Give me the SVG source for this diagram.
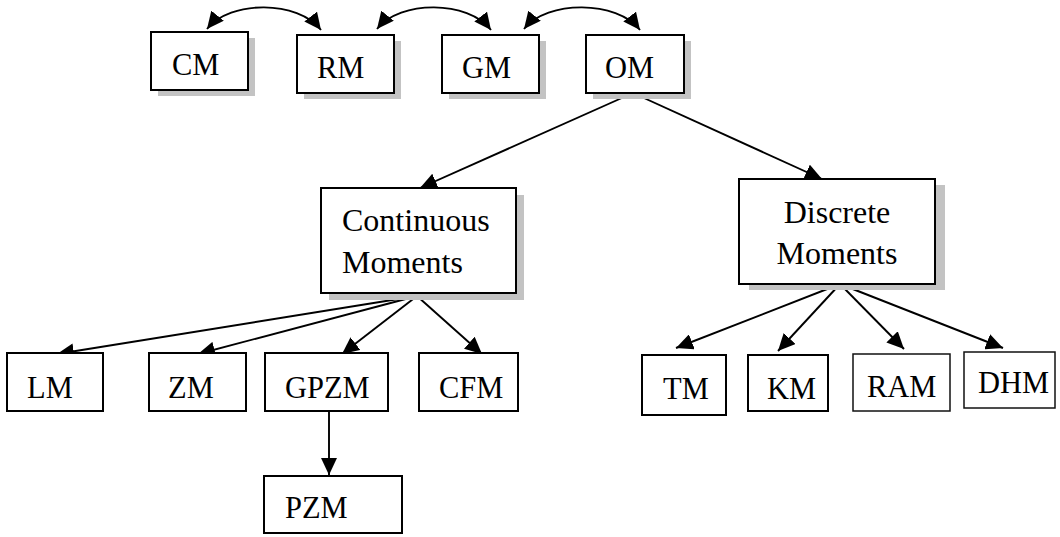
<svg xmlns="http://www.w3.org/2000/svg" width="1060" height="537" viewBox="0 0 1060 537">
<style>
.box{fill:#fff;stroke:#000;stroke-width:2}
.thin{fill:#fff;stroke:#111;stroke-width:1.5}
.sh{fill:#c3c3c3}
.t{font-family:"Liberation Serif","Times New Roman",serif;font-size:30.5px;fill:#000}
.tl{font-family:"Liberation Serif","Times New Roman",serif;font-size:32px;fill:#000}
.c{fill:none;stroke:#000;stroke-width:1.9}
</style>
<defs>
<marker id="ah" viewBox="0 0 17 16" refX="17" refY="8" markerWidth="17" markerHeight="16" markerUnits="userSpaceOnUse" orient="auto-start-reverse">
<path d="M0,0 L17,8 L0,16 z" fill="#000"/>
</marker>
</defs>
<rect width="1060" height="537" fill="#fff"/>
<g id="connectors">
<path class="c" d="M207,29 C230,0 298,0 321,30" marker-start="url(#ah)" marker-end="url(#ah)"/>
<path class="c" d="M377,29 C400,0 468,0 491,30" marker-start="url(#ah)" marker-end="url(#ah)"/>
<path class="c" d="M524,29 C547,0 617,0 640,30" marker-start="url(#ah)" marker-end="url(#ah)"/>
<path class="c" d="M633,93 L420,188" marker-end="url(#ah)"/>
<path class="c" d="M633,93 L822,179" marker-end="url(#ah)"/>
<path class="c" d="M417,296 L57,354" marker-end="url(#ah)"/>
<path class="c" d="M417,296 L198,354" marker-end="url(#ah)"/>
<path class="c" d="M417,296 L342,354" marker-end="url(#ah)"/>
<path class="c" d="M417,296 L482,354" marker-end="url(#ah)"/>
<path class="c" d="M840,284 L676,348" marker-end="url(#ah)"/>
<path class="c" d="M840,284 L778,351" marker-end="url(#ah)"/>
<path class="c" d="M840,284 L904,349" marker-end="url(#ah)"/>
<path class="c" d="M840,284 L1003,348" marker-end="url(#ah)"/>
<path class="c" d="M329,411 L329,475" marker-end="url(#ah)"/>
</g>
<g id="CM"><rect class="sh" x="158" y="38" width="97" height="58"/><rect class="box" x="151" y="32" width="97" height="58"/><text class="t" x="172" y="75">CM</text></g>
<g id="RM"><rect class="sh" x="304" y="41" width="97" height="58"/><rect class="box" x="297" y="35" width="97" height="58"/><text class="t" x="317" y="78">RM</text></g>
<g id="GM"><rect class="sh" x="449" y="41" width="97" height="58"/><rect class="box" x="442" y="35" width="97" height="58"/><text class="t" x="462" y="78">GM</text></g>
<g id="OM"><rect class="sh" x="593" y="41" width="98" height="58"/><rect class="box" x="586" y="35" width="98" height="58"/><text class="t" x="605" y="78">OM</text></g>
<g id="Continuous"><rect class="sh" x="329" y="195" width="195" height="105"/><rect class="box" x="321" y="188" width="195" height="105"/><text class="tl" x="342" y="231">Continuous</text><text class="tl" x="342" y="273">Moments</text></g>
<g id="Discrete"><rect class="sh" x="749" y="185" width="196" height="105"/><rect class="box" x="739" y="179" width="196" height="105"/><text class="tl" x="837" y="223" text-anchor="middle">Discrete</text><text class="tl" x="837" y="264" text-anchor="middle">Moments</text></g>
<g id="LM"><rect class="box" x="7" y="353" width="96" height="58"/><text class="t" x="27" y="398">LM</text></g>
<g id="ZM"><rect class="box" x="149" y="353" width="97" height="58"/><text class="t" x="168" y="398">ZM</text></g>
<g id="GPZM"><rect class="box" x="265" y="353" width="123" height="58"/><text class="t" x="285" y="398">GPZM</text></g>
<g id="CFM"><rect class="box" x="419" y="353" width="99" height="58"/><text class="t" x="439" y="398">CFM</text></g>
<g id="PZM"><rect class="box" x="264" y="476" width="138" height="57"/><text class="t" x="285" y="518">PZM</text></g>
<g id="TM"><rect class="box" x="642" y="355" width="84" height="60"/><text class="t" x="663" y="399">TM</text></g>
<g id="KM"><rect class="box" x="748" y="355" width="80" height="56"/><text class="t" x="767" y="399">KM</text></g>
<g id="RAM"><rect class="thin" x="853" y="354" width="97" height="57"/><text class="t" x="867" y="397">RAM</text></g>
<g id="DHM"><rect class="thin" x="964" y="352" width="91" height="56"/><text class="t" x="978" y="393">DHM</text></g>
</svg>
